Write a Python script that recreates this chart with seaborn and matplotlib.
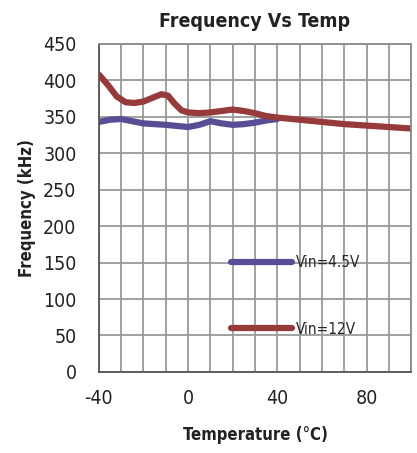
import pandas as pd
import matplotlib.pyplot as plt
import seaborn as sns

# data
temp_12v = [-40, -36, -32, -28, -24, -20, -16, -12, -9, -6, -3, 0, 5, 10, 15, 20, 25, 30, 35, 40, 50, 60, 70, 80, 90, 100]
freq_12v = [408, 394, 378, 370, 369, 371, 376, 381, 379, 368, 359, 356, 355, 356, 358, 360, 358, 355, 351, 349, 346, 343, 340, 338, 336, 334]
temp_45v = [-40, -35, -30, -25, -20, -10, 0, 5, 10, 15, 20, 25, 30, 35, 40]
freq_45v = [343, 346, 347, 344, 341, 339, 336, 339, 344, 341, 339, 340, 342, 345, 347]

series = ['Vin=4.5V', 'Vin=12V']
colors = ['#5a4d95', '#973a3b']

df = pd.concat([
    pd.DataFrame({'temp': temp_45v, 'freq': freq_45v, 'series': series[0]}),
    pd.DataFrame({'temp': temp_12v, 'freq': freq_12v, 'series': series[1]}),
])

sns.set_style('white')
plt.rcParams['font.family'] = ['DejaVu Sans']
plt.rcParams['font.stretch'] = 'condensed'
plt.rcParams['axes.unicode_minus'] = False

fig = plt.figure(figsize=(4.17, 4.53), dpi=100)
ax = fig.add_axes([0.237, 0.179, 0.749, 0.724])

sns.lineplot(data=df, x='temp', y='freq', hue='series', palette=colors,
             hue_order=series, linewidth=4.5, ax=ax, legend=False, sort=False)

ax.set_xlim(-40, 100)
ax.set_ylim(0, 450)
ax.set_xticks([-40, 0, 40, 80])
ax.set_xticks(range(-40, 101, 10), minor=True)
ax.set_yticks(range(0, 451, 50))
ax.grid(True, which='both', color='#9a9a9a', linewidth=1.3)
ax.set_axisbelow(True)
for s in ax.spines.values():
    s.set_color('#8a8a8a')
    s.set_linewidth(1.3)
ax.spines['left'].set_color('#555555')
ax.spines['bottom'].set_color('#555555')
ax.tick_params(which='both', length=0, labelsize=14, colors='#222222')
ax.tick_params(axis='x', pad=12)
ax.tick_params(axis='y', pad=16)

ax.set_title('Frequency Vs Temp', fontsize=14, fontweight='bold', color='#222222', pad=12)
ax.set_xlabel('Temperature (\u00b0C)', fontsize=12, fontweight='bold', color='#222222', labelpad=13)
ax.set_ylabel('Frequency (kHz)', fontsize=12, fontweight='bold', color='#222222', labelpad=5)

handles = [plt.Line2D([], [], color=c, linewidth=4.5) for c in colors]
ax.legend(handles, series, loc='lower left', bbox_to_anchor=(0.38, 0.065),
          frameon=False, handlelength=4.0, handletextpad=0.2, labelspacing=3.4,
          fontsize=11)

fig.savefig('out.png', dpi=100)
